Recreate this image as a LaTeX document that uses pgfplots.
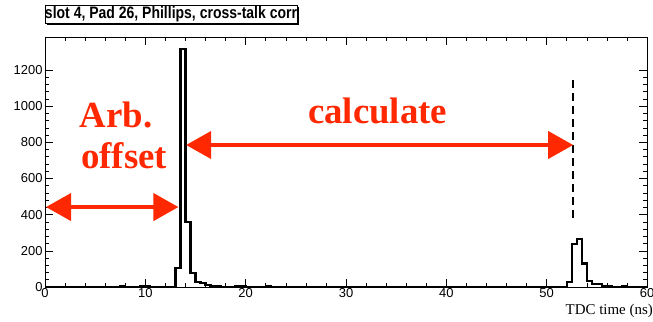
\documentclass[border=0pt]{standalone}
\usepackage{fontspec}
\setmainfont{Liberation Sans}
\newfontfamily\timesfont{Liberation Serif}
\usepackage{pgfplots}
\pgfplotsset{compat=1.18}
\usetikzlibrary{arrows.meta}
\definecolor{arrred}{RGB}{255,40,0}
\begin{document}
\begin{tikzpicture}[x=1bp,y=1bp]
\useasboundingbox (-45,-34) rectangle (608,287);
\begin{axis}[
  scale only axis, width=602bp, height=250bp,
  xmin=0, xmax=60, ymin=0, ymax=1382,
  xtick={0,10,...,60}, ytick={0,200,...,1200},
  minor x tick num=4, minor y tick num=4,
  tick align=inside, major tick length=8bp, minor tick length=4bp,
  axis line style={line width=0.6pt},
  tick style={line width=0.6pt, black},
  /pgf/number format/assume math mode=true,
  /pgf/number format/1000 sep={},
  ticklabel style={font=\fontsize{13}{13}\selectfont},
  xticklabel style={yshift=2bp},
  yticklabel style={xshift=1bp},
  scaled y ticks=false,
  clip=false,
]
\addplot[const plot mark left, line width=2.3pt, black] coordinates {
(0,0) (7.5,4) (8,0) (9.5,4) (10,5) (10.5,0) (13,105) (13.5,1316) (14,360) (14.5,77) (15,28) (15.5,22) (16,12) (16.5,6) (17,3) (17.5,0)
(19,4) (19.5,4) (20,0) (22,4) (22.5,0)
(52,28) (52.5,237) (53,265) (53.5,130) (54,33) (54.5,18) (55,18) (55.5,6) (56,6) (56.5,0) (57.5,5) (58,0) (60,0)};
\draw[line width=1.6pt, dash pattern=on 8bp off 5bp] (axis cs:52.6,1144) -- (axis cs:52.6,360);
\draw[arrred, line width=4bp, {Triangle[length=25bp,width=27bp]}-{Triangle[length=25bp,width=27bp]}] (axis cs:0.1,442) -- (axis cs:13.3,442);
\draw[arrred, line width=4bp, {Triangle[length=25bp,width=27bp]}-{Triangle[length=25bp,width=27bp]}] (axis cs:14.06,785) -- (axis cs:52.64,785);
\node[arrred, anchor=base, font=\timesfont\bfseries\fontsize{37}{37}\selectfont] at (axis cs:7.1,884) {Arb.};
\node[arrred, anchor=base, font=\timesfont\bfseries\fontsize{37}{37}\selectfont] at (axis cs:7.9,657) {offset};
\node[arrred, anchor=base, font=\timesfont\bfseries\fontsize{37}{37}\selectfont] at (axis cs:33.15,906) {calculate};
\end{axis}
\node[anchor=north east, inner sep=0pt, font=\timesfont\fontsize{15}{15}\selectfont] at (608,-17) {TDC time (ns)};
\fill[black] (2,262) rectangle (254,280);
\draw[fill=white, line width=0.6pt] (0,264) rectangle (252,282);
\node[anchor=center, inner sep=0pt] at (126,273) {\resizebox{252bp}{12bp}{\fontsize{16}{16}\selectfont\bfseries slot 4, Pad 26, Phillips, cross-talk corr}};
\end{tikzpicture}
\end{document}
